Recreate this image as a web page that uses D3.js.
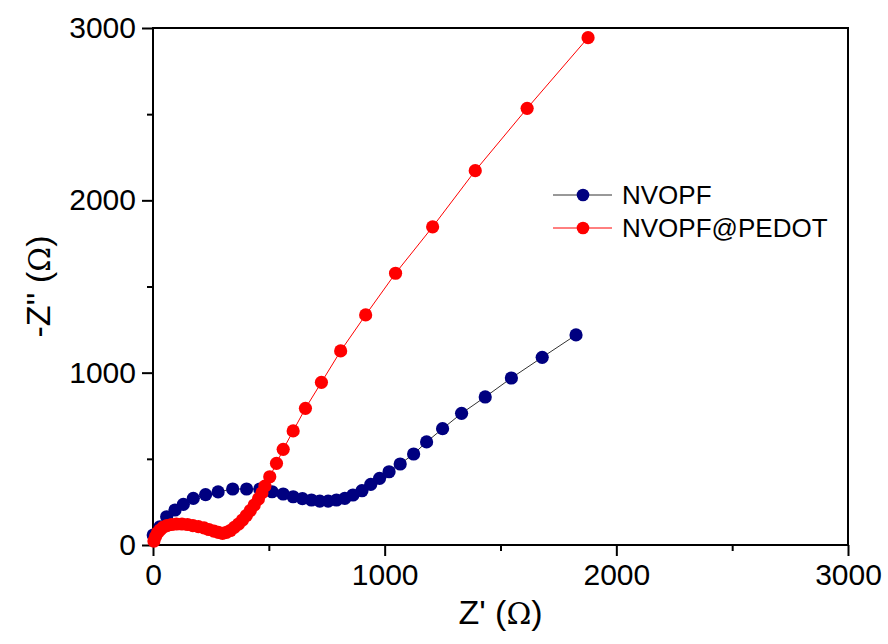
<!DOCTYPE html>
<html>
<head>
<meta charset="utf-8">
<script src="https://cdn.jsdelivr.net/npm/d3@7"></script>
<style>
  html, body { margin: 0; padding: 0; background: #fff; }
  svg text { font-family: "Liberation Sans", Arial, sans-serif; fill: #000; }
</style>
</head>
<body>
<div id="chart"></div>
<script>
// NVOPF (blue) – Z' and -Z'' in ohm
const nvopfRe = [1, 30, 59, 95, 131, 174, 227, 281, 344, 404, 461, 514, 562, 605, 645, 684, 720, 756, 792, 828, 863, 902, 940, 978, 1019, 1067, 1125, 1181, 1250, 1332, 1434, 1547, 1680, 1826];
const nvopfIm = [58, 106, 164, 203, 236, 271, 292, 308, 325, 325, 325, 309, 296, 280, 269, 261, 255, 255, 261, 271, 290, 315, 352, 387, 425, 470, 528, 598, 675, 764, 859, 969, 1089, 1219];

// NVOPF@PEDOT (red)
const pedotRe = [4, 11, 19, 30, 43, 60, 80, 101, 125, 149, 172, 196, 220, 241, 263, 282, 300, 317, 334, 351, 369, 386, 403, 420, 437, 455, 470, 483, 504, 533, 562, 605, 658, 727, 810, 918, 1047, 1207, 1391, 1615, 1878];
const pedotIm = [23, 49, 70, 87, 102, 113, 119, 122, 122, 119, 113, 107, 99, 90, 81, 73, 67, 73, 84, 102, 122, 145, 171, 200, 232, 267, 302, 342, 396, 474, 555, 662, 793, 944, 1126, 1335, 1577, 1846, 2172, 2534, 2944];

const majorTicks = [0, 1000, 2000, 3000];
const minorTicks = [500, 1500, 2500];
const seriesNames = ["NVOPF", "NVOPF@PEDOT"];
const markerColors = ["#000080", "#ff0000"];
const lineColors = ["#333333", "#ff0000"];

const W = 888, H = 644;
const plotL = 153, plotR = 848, plotT = 28, plotB = 545;

const svg = d3.select("#chart").append("svg")
  .attr("width", W)
  .attr("height", H);

const x = d3.scaleLinear().domain([0, 3000]).range([plotL, plotR]);
const y = d3.scaleLinear().domain([0, 3000]).range([plotB, plotT]);

// frame
svg.append("rect")
  .attr("x", plotL).attr("y", plotT)
  .attr("width", plotR - plotL).attr("height", plotB - plotT)
  .attr("fill", "none").attr("stroke", "#000").attr("stroke-width", 2);

// axes
function styleAxis(g) {
  g.select(".domain").remove();
  g.selectAll("line").attr("stroke", "#000").attr("stroke-width", 2);
  g.selectAll("text").attr("font-size", "30px");
}

svg.append("g")
  .attr("transform", `translate(0,${plotB})`)
  .call(d3.axisBottom(x).tickValues(majorTicks).tickSize(11).tickPadding(8).tickFormat(d3.format("d")))
  .call(styleAxis);
svg.append("g")
  .attr("transform", `translate(0,${plotB})`)
  .call(d3.axisBottom(x).tickValues(minorTicks).tickSize(6).tickFormat(""))
  .call(styleAxis);

svg.append("g")
  .attr("transform", `translate(${plotL},0)`)
  .call(d3.axisLeft(y).tickValues(majorTicks).tickSize(11).tickPadding(6).tickFormat(d3.format("d")))
  .call(styleAxis);
svg.append("g")
  .attr("transform", `translate(${plotL},0)`)
  .call(d3.axisLeft(y).tickValues(minorTicks).tickSize(6).tickFormat(""))
  .call(styleAxis);

// axis titles
const xt = svg.append("text")
  .attr("x", (plotL + plotR) / 2)
  .attr("y", 624)
  .attr("text-anchor", "middle")
  .attr("font-size", "34px");
xt.append("tspan").text("Z' (");
xt.append("tspan").attr("font-family", "'DejaVu Serif', 'Liberation Serif', serif").attr("font-size", "30px").text("Ω");
xt.append("tspan").text(")");

const yt = svg.append("text")
  .attr("transform", `translate(50,${(plotT + plotB) / 2}) rotate(-90)`)
  .attr("text-anchor", "middle")
  .attr("font-size", "34px");
yt.append("tspan").text("-Z'' (");
yt.append("tspan").attr("font-family", "'DejaVu Serif', 'Liberation Serif', serif").attr("font-size", "30px").text("Ω");
yt.append("tspan").text(")");

// series
const series = [
  { re: nvopfRe, im: nvopfIm },
  { re: pedotRe, im: pedotIm }
];

const line = d3.line().x(d => x(d[0])).y(d => y(d[1]));

series.forEach((s, i) => {
  const pts = s.re.map((v, k) => [v, s.im[k]]);
  const g = svg.append("g");
  g.append("path")
    .datum(pts)
    .attr("d", line)
    .attr("fill", "none")
    .attr("stroke", lineColors[i])
    .attr("stroke-width", 1);
  g.selectAll("circle")
    .data(pts)
    .enter()
    .append("circle")
    .attr("cx", d => x(d[0]))
    .attr("cy", d => y(d[1]))
    .attr("r", 6.6)
    .attr("fill", markerColors[i]);
});

// legend
const legend = svg.append("g").attr("transform", "translate(553,195)");
seriesNames.forEach((name, i) => {
  const row = legend.append("g").attr("transform", `translate(0,${i * 33})`);
  row.append("line")
    .attr("x1", 0).attr("x2", 59)
    .attr("y1", 0).attr("y2", 0)
    .attr("stroke", lineColors[i]).attr("stroke-width", 1);
  row.append("circle")
    .attr("cx", 30).attr("cy", 0).attr("r", 6.3)
    .attr("fill", markerColors[i]);
  row.append("text")
    .attr("x", 69).attr("y", 9)
    .attr("font-size", "26px")
    .text(name);
});
</script>
</body>
</html>
